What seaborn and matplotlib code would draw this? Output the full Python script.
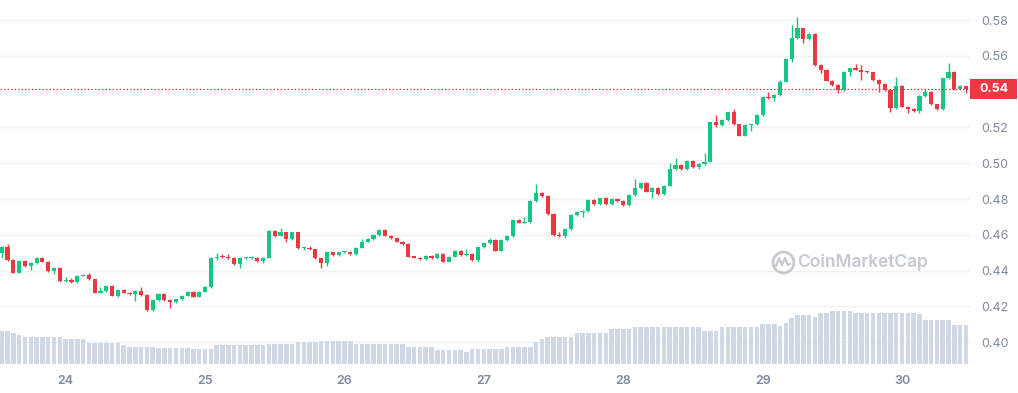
import numpy as np
import matplotlib
matplotlib.use("Agg")
import matplotlib.pyplot as plt
import matplotlib.transforms as mtransforms
from matplotlib.patches import Rectangle
import seaborn as sns

# ---------------- data (hourly candles, 23 Jun 13:00 -> 30 Jun 11:00) ----------------
day_labels = ["24", "25", "26", "27", "28", "29", "30"]
day_index = [11, 35, 59, 83, 107, 131, 155]

opens = [
    0.4498, 0.4532, 0.4459, 0.4388, 0.4454, 0.4426, 0.4442, 0.4470, 0.4450, 0.4398,
    0.4414, 0.4342, 0.4350, 0.4336, 0.4371, 0.4375, 0.4351, 0.4276, 0.4286, 0.4316,
    0.4260, 0.4292, 0.4276, 0.4269, 0.4286, 0.4264, 0.4180, 0.4236, 0.4267, 0.4236,
    0.4224, 0.4240, 0.4260, 0.4282, 0.4254, 0.4282, 0.4308, 0.4469, 0.4478, 0.4476,
    0.4469, 0.4435, 0.4469, 0.4472, 0.4473, 0.4454, 0.4472, 0.4621, 0.4595, 0.4614,
    0.4576, 0.4614, 0.4524, 0.4526, 0.4518, 0.4469, 0.4441, 0.4502, 0.4487, 0.4502,
    0.4504, 0.4493, 0.4528, 0.4561, 0.4576, 0.4599, 0.4627, 0.4595, 0.4580, 0.4561,
    0.4549, 0.4478, 0.4473, 0.4463, 0.4481, 0.4469, 0.4493, 0.4450, 0.4478, 0.4511,
    0.4487, 0.4495, 0.4459, 0.4530, 0.4552, 0.4571, 0.4511, 0.4571, 0.4593, 0.4683,
    0.4668, 0.4671, 0.4790, 0.4832, 0.4817, 0.4716, 0.4599, 0.4593, 0.4631, 0.4711,
    0.4729, 0.4733, 0.4794, 0.4772, 0.4804, 0.4770, 0.4800, 0.4789, 0.4766, 0.4822,
    0.4860, 0.4891, 0.4841, 0.4861, 0.4826, 0.4874, 0.4966, 0.4990, 0.4968, 0.5014,
    0.4980, 0.4995, 0.5008, 0.5228, 0.5213, 0.5241, 0.5284, 0.5217, 0.5154, 0.5213,
    0.5217, 0.5269, 0.5371, 0.5363, 0.5381, 0.5455, 0.5580, 0.5698, 0.5754, 0.5692,
    0.5722, 0.5549, 0.5521, 0.5461, 0.5437, 0.5409, 0.5511, 0.5530, 0.5523, 0.5511,
    0.5508, 0.5465, 0.5442, 0.5409, 0.5307, 0.5431, 0.5316, 0.5303, 0.5292, 0.5375,
    0.5399, 0.5329, 0.5303, 0.5474, 0.5511, 0.5414, 0.5431,
]
closes = [
    0.4532, 0.4459, 0.4388, 0.4454, 0.4426, 0.4442, 0.4470, 0.4450, 0.4398, 0.4414,
    0.4342, 0.4350, 0.4336, 0.4371, 0.4375, 0.4351, 0.4276, 0.4286, 0.4316, 0.4260,
    0.4292, 0.4276, 0.4269, 0.4286, 0.4264, 0.4180, 0.4236, 0.4267, 0.4236, 0.4224,
    0.4240, 0.4260, 0.4282, 0.4254, 0.4282, 0.4308, 0.4469, 0.4478, 0.4476, 0.4469,
    0.4435, 0.4469, 0.4472, 0.4473, 0.4454, 0.4472, 0.4621, 0.4595, 0.4614, 0.4576,
    0.4614, 0.4524, 0.4526, 0.4518, 0.4469, 0.4441, 0.4502, 0.4487, 0.4502, 0.4504,
    0.4493, 0.4528, 0.4561, 0.4576, 0.4599, 0.4627, 0.4595, 0.4580, 0.4561, 0.4549,
    0.4478, 0.4473, 0.4463, 0.4481, 0.4469, 0.4493, 0.4450, 0.4478, 0.4511, 0.4487,
    0.4495, 0.4459, 0.4530, 0.4552, 0.4571, 0.4511, 0.4571, 0.4593, 0.4683, 0.4668,
    0.4671, 0.4790, 0.4832, 0.4817, 0.4716, 0.4599, 0.4593, 0.4631, 0.4711, 0.4729,
    0.4733, 0.4794, 0.4772, 0.4804, 0.4770, 0.4800, 0.4789, 0.4766, 0.4822, 0.4860,
    0.4891, 0.4841, 0.4861, 0.4826, 0.4874, 0.4966, 0.4990, 0.4968, 0.5014, 0.4980,
    0.4995, 0.5008, 0.5228, 0.5213, 0.5241, 0.5284, 0.5217, 0.5154, 0.5213, 0.5217,
    0.5269, 0.5371, 0.5363, 0.5381, 0.5455, 0.5580, 0.5698, 0.5754, 0.5692, 0.5722,
    0.5549, 0.5521, 0.5461, 0.5437, 0.5409, 0.5511, 0.5530, 0.5523, 0.5511, 0.5508,
    0.5465, 0.5442, 0.5409, 0.5307, 0.5431, 0.5316, 0.5303, 0.5292, 0.5375, 0.5399,
    0.5329, 0.5303, 0.5474, 0.5511, 0.5414, 0.5431, 0.5415,
]
highs = [
    0.4540, 0.4549, 0.4462, 0.4458, 0.4460, 0.4446, 0.4476, 0.4478, 0.4454, 0.4422,
    0.4418, 0.4362, 0.4356, 0.4376, 0.4382, 0.4385, 0.4355, 0.4310, 0.4322, 0.4320,
    0.4296, 0.4298, 0.4280, 0.4290, 0.4310, 0.4268, 0.4240, 0.4272, 0.4272, 0.4240,
    0.4244, 0.4264, 0.4286, 0.4286, 0.4286, 0.4312, 0.4474, 0.4500, 0.4490, 0.4490,
    0.4474, 0.4474, 0.4478, 0.4482, 0.4477, 0.4476, 0.4626, 0.4628, 0.4640, 0.4618,
    0.4618, 0.4618, 0.4534, 0.4540, 0.4522, 0.4473, 0.4506, 0.4506, 0.4506, 0.4512,
    0.4508, 0.4532, 0.4576, 0.4580, 0.4603, 0.4632, 0.4631, 0.4599, 0.4584, 0.4565,
    0.4553, 0.4483, 0.4477, 0.4485, 0.4485, 0.4497, 0.4497, 0.4482, 0.4515, 0.4515,
    0.4520, 0.4499, 0.4534, 0.4556, 0.4580, 0.4575, 0.4575, 0.4597, 0.4687, 0.4687,
    0.4700, 0.4794, 0.4884, 0.4840, 0.4821, 0.4720, 0.4615, 0.4635, 0.4715, 0.4735,
    0.4738, 0.4800, 0.4798, 0.4808, 0.4812, 0.4804, 0.4806, 0.4793, 0.4826, 0.4910,
    0.4895, 0.4895, 0.4865, 0.4865, 0.4878, 0.5000, 0.5030, 0.4994, 0.5018, 0.5018,
    0.5000, 0.5055, 0.5232, 0.5270, 0.5245, 0.5288, 0.5303, 0.5221, 0.5217, 0.5221,
    0.5273, 0.5375, 0.5400, 0.5385, 0.5465, 0.5585, 0.5770, 0.5815, 0.5758, 0.5726,
    0.5726, 0.5553, 0.5525, 0.5465, 0.5441, 0.5515, 0.5534, 0.5552, 0.5548, 0.5515,
    0.5512, 0.5469, 0.5446, 0.5413, 0.5483, 0.5435, 0.5320, 0.5307, 0.5379, 0.5413,
    0.5403, 0.5333, 0.5478, 0.5558, 0.5515, 0.5435, 0.5433,
]
lows = [
    0.4472, 0.4455, 0.4385, 0.4385, 0.4420, 0.4405, 0.4438, 0.4446, 0.4392, 0.4380,
    0.4338, 0.4338, 0.4332, 0.4332, 0.4368, 0.4348, 0.4272, 0.4273, 0.4282, 0.4256,
    0.4255, 0.4272, 0.4262, 0.4230, 0.4260, 0.4176, 0.4176, 0.4232, 0.4232, 0.4190,
    0.4220, 0.4236, 0.4256, 0.4250, 0.4250, 0.4278, 0.4304, 0.4460, 0.4470, 0.4465,
    0.4430, 0.4413, 0.4465, 0.4466, 0.4450, 0.4444, 0.4468, 0.4590, 0.4592, 0.4561,
    0.4572, 0.4520, 0.4515, 0.4514, 0.4465, 0.4414, 0.4425, 0.4483, 0.4483, 0.4498,
    0.4489, 0.4489, 0.4524, 0.4557, 0.4572, 0.4595, 0.4591, 0.4576, 0.4557, 0.4545,
    0.4474, 0.4468, 0.4459, 0.4459, 0.4465, 0.4465, 0.4446, 0.4446, 0.4474, 0.4483,
    0.4484, 0.4452, 0.4448, 0.4526, 0.4548, 0.4507, 0.4507, 0.4567, 0.4589, 0.4664,
    0.4664, 0.4667, 0.4786, 0.4813, 0.4712, 0.4595, 0.4588, 0.4580, 0.4627, 0.4707,
    0.4700, 0.4729, 0.4768, 0.4768, 0.4766, 0.4766, 0.4785, 0.4762, 0.4762, 0.4818,
    0.4856, 0.4837, 0.4806, 0.4822, 0.4822, 0.4870, 0.4962, 0.4964, 0.4964, 0.4976,
    0.4965, 0.4991, 0.5004, 0.5200, 0.5209, 0.5237, 0.5213, 0.5150, 0.5150, 0.5180,
    0.5213, 0.5265, 0.5359, 0.5348, 0.5377, 0.5451, 0.5567, 0.5694, 0.5670, 0.5688,
    0.5545, 0.5506, 0.5457, 0.5433, 0.5390, 0.5405, 0.5485, 0.5519, 0.5465, 0.5503,
    0.5461, 0.5399, 0.5405, 0.5288, 0.5303, 0.5312, 0.5280, 0.5285, 0.5278, 0.5371,
    0.5325, 0.5299, 0.5299, 0.5470, 0.5410, 0.5410, 0.5392,
]
volume = [
    33.3, 33.3, 31.3, 29.0, 26.7, 26.7, 26.7, 26.7, 26.7, 26.7,
    26.7, 25.0, 25.0, 25.0, 25.0, 21.0, 21.0, 21.0, 21.0, 21.0,
    21.0, 19.0, 17.0, 17.0, 17.0, 17.0, 17.0, 16.0, 16.0, 16.0,
    16.0, 16.0, 16.0, 14.7, 14.7, 14.7, 14.7, 18.7, 18.7, 18.7,
    18.7, 18.7, 18.7, 18.7, 18.7, 18.7, 20.3, 20.3, 20.3, 20.3,
    20.3, 21.7, 21.7, 21.7, 21.7, 22.7, 22.7, 22.7, 22.7, 22.7,
    22.7, 19.7, 19.7, 19.7, 19.7, 19.7, 19.7, 19.7, 19.7, 19.7,
    16.7, 16.7, 16.7, 16.7, 16.7, 14.0, 14.0, 14.0, 14.0, 14.0,
    12.3, 14.7, 14.7, 14.7, 14.7, 14.7, 14.7, 16.7, 16.7, 16.7,
    16.7, 16.7, 21.7, 24.7, 27.3, 27.3, 27.3, 27.3, 27.3, 30.7,
    30.7, 30.7, 30.7, 30.7, 30.7, 35.3, 35.3, 35.3, 35.3, 37.3,
    37.3, 37.3, 37.3, 37.3, 37.3, 37.3, 37.3, 37.3, 37.3, 37.3,
    37.3, 33.3, 33.3, 33.3, 37.3, 37.3, 37.3, 37.3, 37.3, 37.3,
    37.3, 40.0, 40.0, 40.0, 38.0, 41.3, 45.7, 49.0, 49.0, 49.0,
    47.3, 51.3, 51.3, 53.3, 53.3, 53.3, 53.3, 50.7, 50.7, 50.7,
    50.7, 50.7, 50.7, 51.3, 51.3, 51.3, 51.3, 51.3, 50.0, 44.0,
    44.0, 44.0, 44.0, 44.0, 39.0, 39.0, 39.0,
]
last_price = 0.5414
price_ticks = [0.40, 0.42, 0.44, 0.46, 0.48, 0.50, 0.52, 0.54, 0.56, 0.58]

# ---------------- style ----------------
sns.set_theme(style="white")
plt.rcParams["font.family"] = ["Inter", "DejaVu Sans"]

GREEN = "#16c784"
RED = "#ea3943"
GRAY_TXT = "#808a9d"
VOL_COL = "#d1d8e5"
GRID = "#eff2f5"

W, H = 1018, 393
fig = plt.figure(figsize=(W / 100, H / 100), dpi=100)
fig.patch.set_facecolor("white")
rect = [0.0, 29 / H, 970 / W, 364 / H]

idx = np.arange(len(closes))
o = np.array(opens)
c = np.array(closes)
hi = np.array(highs)
lo = np.array(lows)
up = c >= o
cols = np.where(up, GREEN, RED)

xlim = (-0.3, 166.7)

# price axes (with grid)
ax = fig.add_axes(rect)
ax.set_facecolor("white")
for t in price_ticks:
    ax.axhline(t, color=GRID, lw=1.0, zorder=0)

# wicks and bodies
ax.vlines(idx, lo, hi, colors=cols, lw=1.0, zorder=2)
body_bottom = np.minimum(o, c)
body_h = np.maximum(np.abs(c - o), 0.0006)
ax.bar(idx, body_h, bottom=body_bottom, width=0.72, color=cols, linewidth=0, zorder=3)

# current price dotted line
ax.axhline(last_price, color=RED, lw=0.9, ls=(0, (1.2, 1.6)), zorder=4)

ax.set_xlim(*xlim)
ax.set_ylim(0.3878, 0.5912)
for s in ax.spines.values():
    s.set_visible(False)
ax.yaxis.tick_right()
ax.set_yticks(price_ticks)
ax.set_yticklabels(["" if abs(t - 0.54) < 1e-9 else f"{t:.2f}" for t in price_ticks])
ax.set_xticks(day_index)
ax.set_xticklabels(day_labels)
ax.tick_params(axis="y", length=0, pad=8, labelsize=9, labelcolor=GRAY_TXT)
ax.tick_params(axis="x", length=0, pad=8, labelsize=9, labelcolor=GRAY_TXT)
for lab in ax.get_xticklabels():
    lab.set_fontweight("semibold")

# price label box
blend = mtransforms.blended_transform_factory(ax.transAxes, ax.transData)
box_h = 20 * 0.0005587
ax.add_patch(Rectangle((1.0, last_price - box_h / 2), 47 / 970, box_h,
                       transform=blend, facecolor=RED, edgecolor="none",
                       clip_on=False, zorder=10))
ax.text(1.0 + 23.5 / 970, last_price, "0.54", transform=blend, ha="center",
        va="center", color="white", fontsize=9, fontweight="bold",
        clip_on=False, zorder=11)

# watermark
ax.plot([783 / 970], [(364 - 262) / 364], marker="o", markersize=15,
        markerfacecolor="none", markeredgecolor="#c4c9d2", markeredgewidth=2.0,
        transform=ax.transAxes, zorder=1)
ax.plot(np.array([776, 779, 782, 785, 788, 790]) / 970,
        (364 - np.array([266, 258, 265, 258, 265, 264])) / 364,
        color="#c4c9d2", lw=1.6, transform=ax.transAxes, zorder=1)
ax.text(797 / 970, (364 - 262) / 364, "CoinMarketCap", transform=ax.transAxes,
        ha="left", va="center", fontsize=12.5, fontweight="semibold",
        color="#c4c9d2", zorder=1)

# volume axes on top, transparent
axv = fig.add_axes(rect, sharex=None)
axv.set_facecolor("none")
sns.barplot(x=idx, y=volume, native_scale=True, color=VOL_COL, saturation=1,
            width=0.78, linewidth=0, errorbar=None, ax=axv)
axv.set_xlim(*xlim)
axv.set_ylim(0, 364)
axv.axis("off")

fig.savefig("out.png", dpi=100, facecolor="white")
